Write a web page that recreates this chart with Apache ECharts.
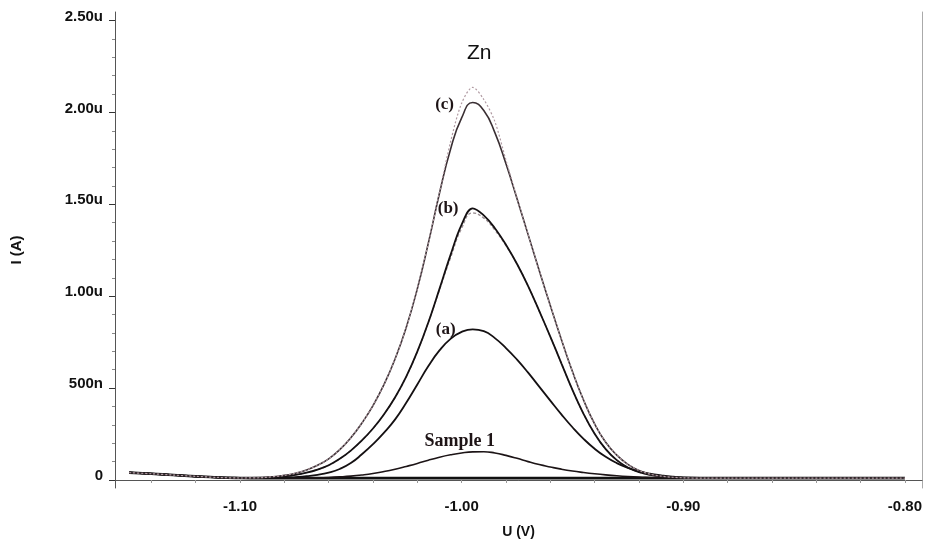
<!DOCTYPE html>
<html><head><meta charset="utf-8">
<script src="https://cdn.jsdelivr.net/npm/echarts@6/dist/echarts.min.js"></script>
<style>html,body{margin:0;padding:0;background:#fff}#c{width:925px;height:552px}</style>
</head><body><div id="c"></div>
<script>
// Potential (V)
const potentials = [-1.15,-1.14,-1.13,-1.12,-1.11,-1.10,-1.09,
  -1.08,-1.075,-1.07,-1.065,-1.06,-1.055,-1.05,-1.045,-1.04,-1.035,-1.03,-1.025,-1.02,-1.015,-1.01,-1.005,-1.00,-0.995,-0.99,-0.985,-0.98,-0.975,-0.97,-0.965,-0.96,-0.955,-0.95,-0.945,-0.94,-0.935,-0.93,-0.925,-0.92,-0.915,-0.91,-0.905,-0.90,
  -0.89,-0.88,-0.85,-0.80];
// Current (µA)
const blank   = [0.040,0.034,0.027,0.020,0.014,0.011,0.010,
  0.010,0.010,0.010,0.010,0.010,0.010,0.010,0.010,0.010,0.010,0.010,0.010,0.010,0.010,0.010,0.010,0.010,0.010,0.010,0.010,0.010,0.010,0.010,0.010,0.010,0.010,0.010,0.010,0.010,0.010,0.010,0.010,0.010,0.010,0.010,0.010,0.010,
  0.010,0.010,0.010,0.010];
const sample1 = [0.040,0.034,0.027,0.020,0.014,0.011,0.010,
  0.010,0.010,0.011,0.012,0.014,0.017,0.021,0.027,0.035,0.046,0.059,0.074,0.090,0.108,0.124,0.137,0.147,0.153,0.154,0.147,0.134,0.118,0.100,0.084,0.071,0.059,0.049,0.041,0.034,0.028,0.023,0.019,0.016,0.014,0.012,0.011,0.010,
  0.010,0.010,0.010,0.010];
const curveA  = [0.040,0.034,0.027,0.020,0.014,0.011,0.010,
  0.012,0.016,0.021,0.028,0.040,0.060,0.092,0.140,0.195,0.258,0.330,0.420,0.520,0.620,0.705,0.768,0.806,0.820,0.810,0.772,0.718,0.655,0.584,0.508,0.432,0.357,0.287,0.224,0.170,0.126,0.092,0.066,0.047,0.034,0.025,0.018,0.014,
  0.011,0.010,0.010,0.010];
const curveB  = [0.040,0.034,0.027,0.020,0.014,0.011,0.012,
  0.020,0.028,0.040,0.057,0.080,0.115,0.160,0.215,0.280,0.358,0.450,0.562,0.698,0.858,1.040,1.225,1.390,1.478,1.440,1.370,1.280,1.175,1.055,0.920,0.780,0.635,0.490,0.360,0.252,0.168,0.108,0.068,0.043,0.028,0.019,0.014,0.012,
  0.010,0.010,0.010,0.010];
const curveB2 = [0.040,0.034,0.027,0.020,0.014,0.011,0.012,
  0.020,0.028,0.040,0.057,0.080,0.115,0.160,0.215,0.280,0.358,0.450,0.562,0.698,0.858,1.035,1.210,1.370,1.453,1.425,1.360,1.275,1.175,1.055,0.920,0.780,0.635,0.490,0.360,0.252,0.168,0.108,0.068,0.043,0.028,0.019,0.014,0.012,
  0.010,0.010,0.010,0.010];
const curveC  = [0.040,0.034,0.027,0.020,0.014,0.011,0.013,
  0.025,0.037,0.055,0.080,0.115,0.165,0.230,0.310,0.405,0.520,0.660,0.830,1.040,1.290,1.560,1.800,1.970,2.054,2.010,1.890,1.720,1.530,1.335,1.140,0.950,0.765,0.590,0.435,0.305,0.205,0.135,0.085,0.052,0.032,0.021,0.015,0.012,
  0.010,0.010,0.010,0.010];
const curveC2 = [0.040,0.034,0.027,0.020,0.014,0.011,0.013,
  0.025,0.037,0.055,0.080,0.115,0.165,0.230,0.310,0.405,0.520,0.660,0.830,1.040,1.290,1.565,1.840,2.050,2.136,2.070,1.950,1.740,1.535,1.335,1.140,0.950,0.765,0.590,0.435,0.305,0.205,0.135,0.085,0.052,0.032,0.021,0.015,0.012,
  0.010,0.010,0.010,0.010];

const xTickValues = [-1.10,-1.00,-0.90,-0.80];
const xMinorTicks = [-1.14,-1.12,-1.10,-1.08,-1.06,-1.04,-1.02,-1.00,-0.98,-0.96,-0.94,-0.92,-0.90,-0.88,-0.86,-0.84,-0.82,-0.80];
const yTickValues = [0,0.5,1.0,1.5,2.0,2.5];
const yTickLabels = ['0','500n','1.00u','1.50u','2.00u','2.50u'];
const yMinorTicks = [0.1,0.2,0.3,0.4,0.6,0.7,0.8,0.9,1.1,1.2,1.3,1.4,1.6,1.7,1.8,1.9,2.1,2.2,2.3,2.4];

const annotations = [
  {text:'(c)', x:-1.0077, y:2.040, size:17},
  {text:'(b)', x:-1.0061, y:1.477, size:17},
  {text:'(a)', x:-1.0072, y:0.819, size:17},
  {text:'Sample 1', x:-1.0009, y:0.208, size:18}
];

const pairs = arr => potentials.map((x,i)=>[x, arr[i]]);
const SANS = '"Liberation Sans", Arial, sans-serif';
const SERIF = '"Liberation Serif", "Times New Roman", serif';
const XMIN = -1.1564, XMAX = -0.7923, YMIN = -0.0435, YMAX = 2.5462;

function lineSeries(name, arr, color, width, type, smooth, z){
  return {name, type:'line', data:pairs(arr), showSymbol:false, smooth:smooth,
    lineStyle:{color, width, type}, z:z, silent:true};
}

const series = [
  lineSeries('blank', blank, '#111', 2.6, 'solid', 0.5, 3),
  lineSeries('Sample 1', sample1, '#1c1416', 1.6, 'solid', 0.5, 3),
  lineSeries('(a)', curveA, '#141012', 1.8, 'solid', 0.5, 3),
  lineSeries('(b) 2', curveB2, '#9c9094', 1.4, [3,2], 0.5, 2),
  lineSeries('(b)', curveB, '#141012', 1.8, 'solid', 0.4, 3),
  lineSeries('(c)', curveC, '#3a2f33', 1.6, 'solid', 0.5, 3),
  lineSeries('(c) 2', curveC2, '#b09aa2', 1.2, [2,2], 0.3, 4)
];
series[0].markPoint = {
  symbol:'circle', symbolSize:0, silent:true, animation:false,
  data: annotations.map(a=>({coord:[a.x,a.y], name:a.text,
    label:{show:true, position:'inside', formatter:a.text, fontFamily:SERIF, fontWeight:'bold', fontSize:a.size, color:'#1e1416'}}))
};

const chart = echarts.init(document.getElementById('c'), null, {renderer:'canvas'});
chart.setOption({
  animation:false,
  backgroundColor:'#fff',
  title:{text:'Zn', left:462, top:38, textStyle:{fontFamily:SANS, fontWeight:'normal', fontSize:21, color:'#111'}},
  grid:{left:115, right:3, top:12, bottom:64},
  xAxis:[
    {type:'value', min:XMIN, max:XMAX, position:'bottom',
     axisLine:{show:true, lineStyle:{color:'#808080', width:1, type:[5,2]}},
     axisTick:{show:true, customValues:xMinorTicks, length:3, lineStyle:{color:'#999'}},
     axisLabel:{customValues:xTickValues, formatter:v=>v.toFixed(2), fontFamily:SANS, fontWeight:'bold', fontSize:15, color:'#111', margin:11},
     splitLine:{show:false},
     name:'U (V)', nameLocation:'middle', nameGap:37,
     nameTextStyle:{fontFamily:SANS, fontWeight:'bold', fontSize:14, color:'#111'}},
    {type:'value', min:XMIN, max:XMAX, position:'top',
     axisLine:{show:true, lineStyle:{color:'#555', width:1}},
     axisTick:{show:false}, axisLabel:{show:false}, splitLine:{show:false}}
  ],
  yAxis:[
    {type:'value', min:YMIN, max:YMAX, position:'left',
     axisLine:{show:true, lineStyle:{color:'#555', width:1}},
     axisTick:{show:true, customValues:yTickValues, length:6, lineStyle:{color:'#333'}},
     axisLabel:{customValues:yTickValues,
       formatter:v=>{const i=yTickValues.findIndex(t=>Math.abs(t-v)<1e-9); return i>=0?yTickLabels[i]:'';},
       fontFamily:SANS, fontWeight:'bold', fontSize:15, color:'#111', margin:12,
       verticalAlign:'bottom', lineHeight:8},
     splitLine:{show:false},
     name:'I (A)', nameLocation:'middle', nameGap:91, nameRotate:90,
     nameTextStyle:{fontFamily:SANS, fontWeight:'bold', fontSize:15, color:'#111'}},
    {type:'value', min:YMIN, max:YMAX, position:'left',
     axisLine:{show:false},
     axisTick:{show:true, customValues:yMinorTicks, length:3, lineStyle:{color:'#888'}},
     axisLabel:{show:false}, splitLine:{show:false}},
    {type:'value', min:YMIN, max:YMAX, position:'right',
     axisLine:{show:true, lineStyle:{color:'#aaa', width:1}},
     axisTick:{show:false}, axisLabel:{show:false}, splitLine:{show:false}}
  ],
  series: series
});
</script></body></html>
